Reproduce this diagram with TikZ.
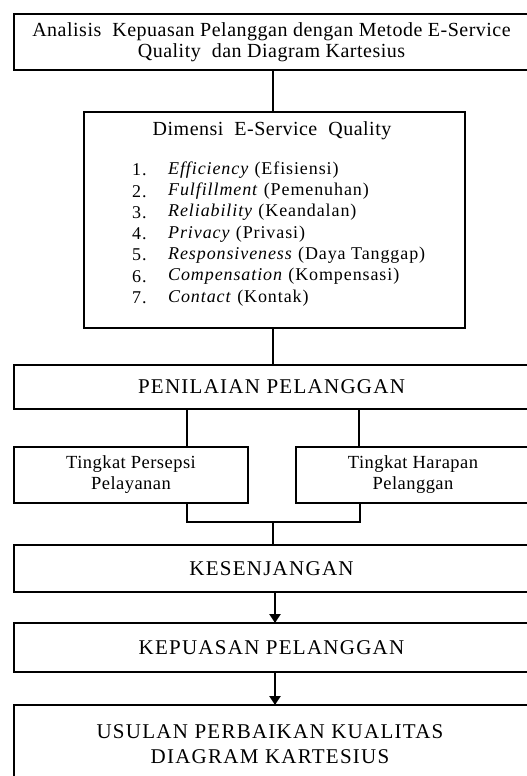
\documentclass[tikz,border=0pt]{standalone}
\usepackage{fontspec}
\setmainfont{Liberation Serif}
\newfontfamily\lowfont[LetterSpace=2.5]{Liberation Serif}
\newfontfamily\capfont[LetterSpace=6]{Liberation Serif}
\newfontfamily\listfont[LetterSpace=5]{Liberation Serif}
\usetikzlibrary{arrows.meta}
\begin{document}
\begin{tikzpicture}[x=1pt,y=-1pt,
  box/.style={draw,line width=2.6pt,rectangle,inner sep=0pt,outer sep=0pt,align=center},
  lowtxt/.style={font=\fontsize{20}{20}\lowfont},
  smalltxt/.style={font=\fontsize{18.5}{20}\lowfont},
  captxt/.style={font=\fontsize{21}{25}\capfont},
  listtxt/.style={font=\fontsize{18}{20}\listfont,inner sep=0pt,anchor=west},
  conn/.style={line width=2.6pt},
  arr/.style={line width=2.6pt,-{Triangle[width=11pt,length=9pt]}}]
\useasboundingbox (0,0) rectangle (527,776);
\clip (0,0) rectangle (527,776);

% boxes
\node[box,lowtxt,minimum width=515pt,minimum height=56pt] (top) at (271.5,42)
  {Analisis\ \ Kepuasan Pelanggan dengan Metode E-Service\\[1pt]Quality\ \ dan Diagram Kartesius};
\node[box,minimum width=381pt,minimum height=216pt] (dim) at (274.5,220) {};
\node[box,captxt,minimum width=515pt,minimum height=44pt] (pen) at (271.5,387) {PENILAIAN PELANGGAN};
\node[box,smalltxt,minimum width=234pt,minimum height=56pt] (tp) at (131,475)
  {Tingkat Persepsi\\[1pt]Pelayanan};
\node[box,smalltxt,minimum width=234pt,minimum height=56pt] (th) at (413,475)
  {Tingkat Harapan\\[1pt]Pelanggan};
\node[box,captxt,minimum width=515pt,minimum height=47pt] (kes) at (271.5,568.5) {KESENJANGAN};
\node[box,captxt,minimum width=515pt,minimum height=49pt] (kep) at (271.5,647.5) {KEPUASAN PELANGGAN};
\node[box,captxt,minimum width=515pt,minimum height=85pt] (usu) at (271.5,747.5) {};
\node[captxt,align=center,inner sep=0pt] (usutxt) at (270,744.5)
  {USULAN PERBAIKAN KUALITAS\\DIAGRAM KARTESIUS};

% contents of the Dimensi box
\node[lowtxt,inner sep=0pt] (dimtitle) at (272,131) {Dimensi\ \ E-Service\ \ Quality};
\foreach \n/\ww/\tx in {1/Efficiency/(Efisiensi),2/Fulfillment/(Pemenuhan),
  3/Reliability/(Keandalan),4/Privacy/(Privasi),5/Responsiveness/(Daya Tanggap),
  6/Compensation/(Kompensasi),7/Contact/(Kontak)}{
  \node[listtxt] (num\n) at (132,{170+21.3*(\n-1)}) {\n.};
  \node[listtxt] (item\n) at (168,{170+21.3*(\n-1)}) {\textit{\ww} \tx};
}

% connectors
\coordinate (j) at (273,522);
\draw[conn] (top.south -| 273,0) -- (dim.north -| 273,0);
\draw[conn] (dim.south -| 273,0) -- (pen.north -| 273,0);
\draw[conn] (pen.south -| 187,0) -- (tp.north -| 187,0);
\draw[conn] (pen.south -| 359,0) -- (th.north -| 359,0);
\draw[conn] (tp.south -| 187,0) -- (187,522) -- (360,522) -- (th.south -| 360,0);
\draw[conn] (j) -- (kes.north -| j);
\draw[arr] (kes.south -| 275,0) -- (kep.north -| 275,0);
\draw[arr] (kep.south -| 275,0) -- (usu.north -| 275,0);
\end{tikzpicture}
\end{document}
